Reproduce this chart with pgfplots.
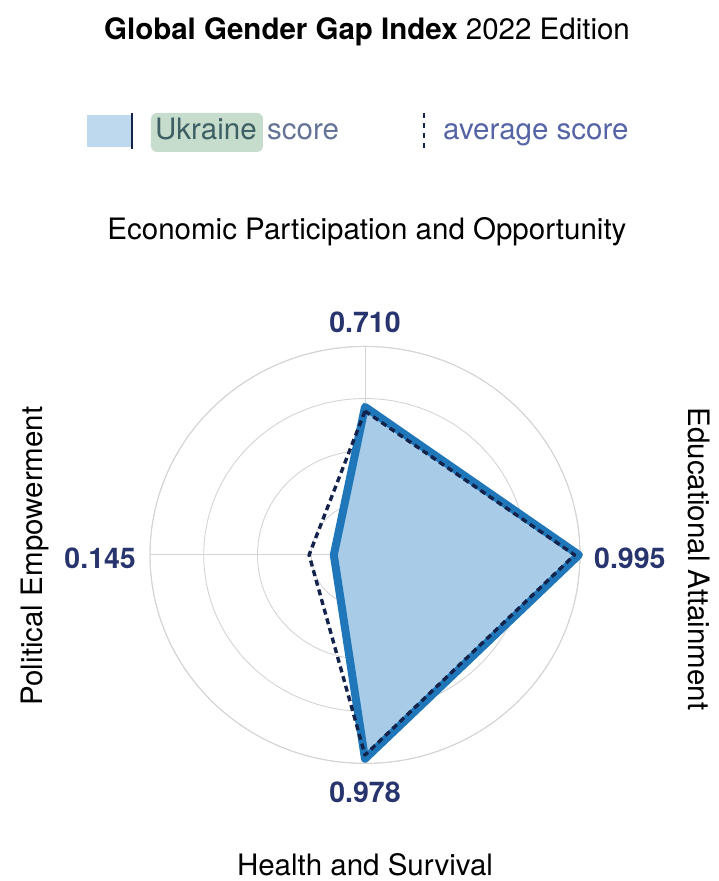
\documentclass[border=0pt]{standalone}
\usepackage{pgfplots}
\pgfplotsset{compat=1.18}
\usepgfplotslibrary{polar}
\usepackage{fontspec}
\setmainfont{TeX Gyre Heros}

\definecolor{fillblue}{RGB}{168,204,232}
\definecolor{lineblue}{RGB}{31,119,186}
\definecolor{avgnavy}{RGB}{20,35,75}
\definecolor{valnavy}{RGB}{40,52,110}
\definecolor{gridgray}{RGB}{212,212,212}
\definecolor{hlgreen}{RGB}{198,220,204}
\definecolor{ukrtext}{RGB}{62,96,100}
\definecolor{scoretext}{RGB}{100,115,150}
\definecolor{avgtext}{RGB}{85,100,165}

\newcommand\txt{\fontsize{29.5}{34}\selectfont}

\begin{document}
\begin{tikzpicture}[x=1pt, y=1pt]
    % frame of the page, same size as the reference (1px = 1pt)
    \path[use as bounding box] (-365,-324) rectangle (354,557);

    \begin{polaraxis}[
        at={(0,1)}, anchor=center,
        scale only axis,
        width=430pt, height=417pt,
        xmin=0, xmax=360,
        ymin=0, ymax=1,
        xtick={0,90,180,270},
        ytick={0.25,0.5,0.75,1},
        xticklabels={}, yticklabels={},
        major tick length=0pt,
        grid=major,
        major grid style={draw=gridgray, line width=0.9pt},
        axis line style={draw=gridgray, line width=0.9pt},
        y axis line style={draw=none},
        clip=false,
    ]
        % Ukraine score
        \addplot[fill=fillblue, draw=none]
            coordinates {(90,0.710) (0,0.995) (270,0.978) (180,0.145)} --cycle;
        \addplot[draw=lineblue, line width=8pt, line join=round]
            coordinates {(90,0.710) (0,0.995) (270,0.978) (180,0.145)} --cycle;
        % average score
        \addplot[draw=avgnavy, line width=3.4pt, line join=round,
                 dash pattern=on 6pt off 4pt]
            coordinates {(90,0.69) (0,0.975) (270,0.96) (180,0.26)} --cycle;
    \end{polaraxis}

    % title
    \node[anchor=base, inner sep=0, font=\txt]
        at (2,517) {\textbf{Global Gender Gap Index} 2022 Edition};

    % legend
    \fill[fillblue!75!white] (-278,410) rectangle (-232,442);
    \draw[avgnavy, line width=1.6pt] (-233,408) -- (-233,444);
    \fill[hlgreen, rounded corners=6pt] (-214,405) rectangle (-102,444);
    \node[anchor=base west, inner sep=0, text=ukrtext, font=\txt]
        at (-210,417) {Ukraine};
    \node[anchor=base west, inner sep=0, text=scoretext, font=\txt]
        at (-98,417) {score};
    \draw[avgnavy, line width=2.6pt, dash pattern=on 5pt off 5pt] (59,444) -- (59,407);
    \node[anchor=base west, inner sep=0, text=avgtext, font=\txt]
        at (78,417) {average score};

    % pillar names
    \node[anchor=base, inner sep=0, font=\txt]
        at (2,317) {Economic Participation and Opportunity};
    \node[anchor=base, inner sep=0, font=\txt]
        at (0,-318) {Health and Survival};
    \node[anchor=base, inner sep=0, rotate=90, font=\txt]
        at (-322,1) {Political Empowerment};
    \node[anchor=base, inner sep=0, rotate=-90, font=\txt]
        at (323,-2) {Educational Attainment};

    % scores
    \begin{scope}[every node/.style={inner sep=0, text=valnavy,
                  font=\bfseries\fontsize{28.5}{32}\selectfont}]
        \node[anchor=base] at (0,224) {0.710};
        \node[anchor=base west] at (229,-12) {0.995};
        \node[anchor=base east] at (-229,-12) {0.145};
        \node[anchor=base] at (0,-245) {0.978};
    \end{scope}
\end{tikzpicture}
\end{document}
